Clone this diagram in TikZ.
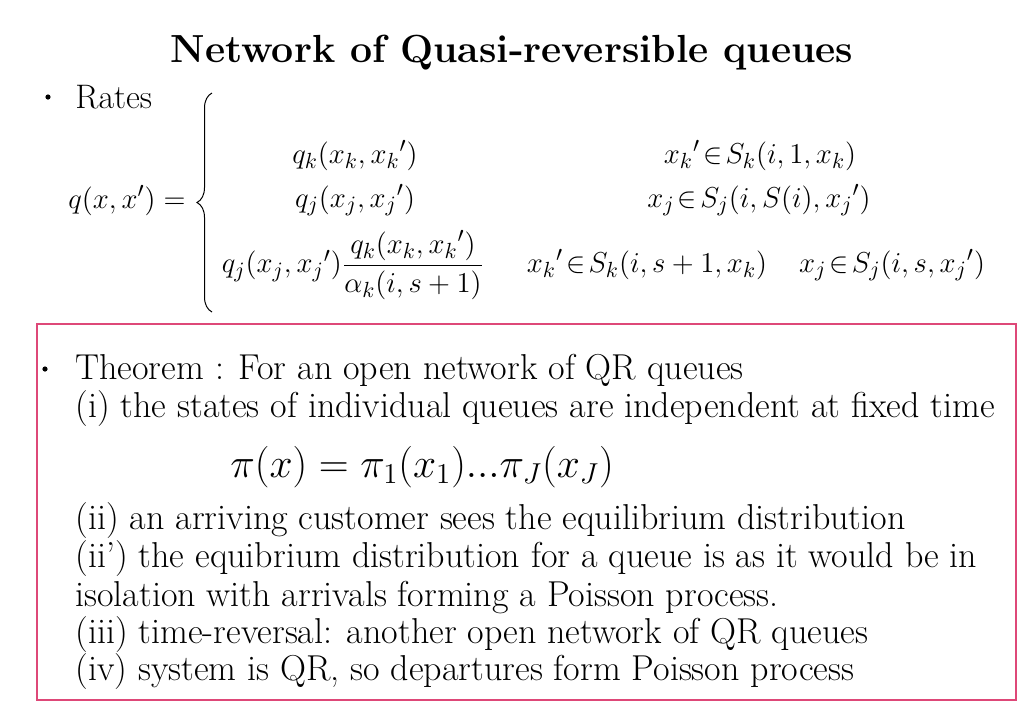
\documentclass[tikz,border=0pt]{standalone}
\usepackage{tikz}
\usepackage{amsmath}
\usepackage{color}
\usetikzlibrary{decorations.pathreplacing}

\definecolor{boxpink}{RGB}{222,72,120}
\newcommand{\elt}{\mskip-3mu\in\mskip-3mu}

\tikzset{
  txt/.style={anchor=base west,inner sep=0pt,font=\fontsize{18}{21}\selectfont},
  mth/.style={anchor=base,inner sep=0pt,font=\fontsize{15}{18}\selectfont},
  dot/.style={circle,fill=black,inner sep=0pt,minimum size=2.6pt}
}

\begin{document}
\begin{tikzpicture}[x=0.5pt,y=-0.5pt]
\useasboundingbox (0,0) rectangle (1023,708);

\node[inner sep=0pt,anchor=base,font=\fontsize{19.6}{24}\selectfont\bfseries] (title) at (512,62) {Network of Quasi-reversible queues};

\node[dot] (b1) at (48,97) {};
\node[txt,font=\fontsize{17}{20}\selectfont] (rates) at (75,108) {Rates};

% rates
\node[mth,anchor=base west] (lhs) at (68,208) {$q(x,x')=$};
\coordinate (btop) at (212,93);
\coordinate (bbot) at (212,312);
\draw[line width=0.5pt,decorate,decoration={brace,amplitude=7.5pt,aspect=0.5}] (bbot) -- (btop);
\node[mth] (r1) at (355,163) {$q_k(x_k,x_k{}')$};
\node[mth] (c1) at (760,163) {$x_k{}'\elt S_k(i,1,x_k)$};
\node[mth] (r2) at (355,207) {$q_j(x_j,x_j{}')$};
\node[mth] (c2) at (759,207) {$x_j\elt S_j(i,S(i),x_j{}')$};
\node[mth,anchor=center] (r3) at (353,265) {$q_j(x_j,x_j{}')\dfrac{q_k(x_k,x_k{}')}{\alpha_k(i,s+1)}$};
\node[mth] (c3a) at (647,272) {$x_k{}'\elt S_k(i,s+1,x_k)$};
\node[mth] (c3b) at (892,272) {$x_j\elt S_j(i,s,x_j{}')$};

\draw[boxpink,line width=0.8pt] (37,324) rectangle (1016,700);

% theorem
\node[dot] (b2) at (45,369) {};
\node[txt] (thm) at (75,379) {Theorem : For an open network of QR queues};
\node[txt] (p1) at (75,417) {(i) the states of individual queues are independent at fixed time};
\node[inner sep=0pt,anchor=base west,font=\fontsize{20}{24}\selectfont] (pi) at (230,477) {$\pi(x)=\pi_1(x_1)...\pi_J(x_J)$};
\node[txt] (p2) at (75,529) {(ii) an arriving customer sees the equilibrium distribution};
\node[txt] (p2b) at (75,567) {(ii') the equibrium distribution for a queue is as it would be in};
\node[txt] (p2c) at (75,606) {isolation with arrivals forming a Poisson process.};
\node[txt] (p3) at (75,643) {(iii) time-reversal: another open network of QR queues};
\node[txt] (p4) at (75,680) {(iv) system is QR, so departures form Poisson process};
\end{tikzpicture}
\end{document}
